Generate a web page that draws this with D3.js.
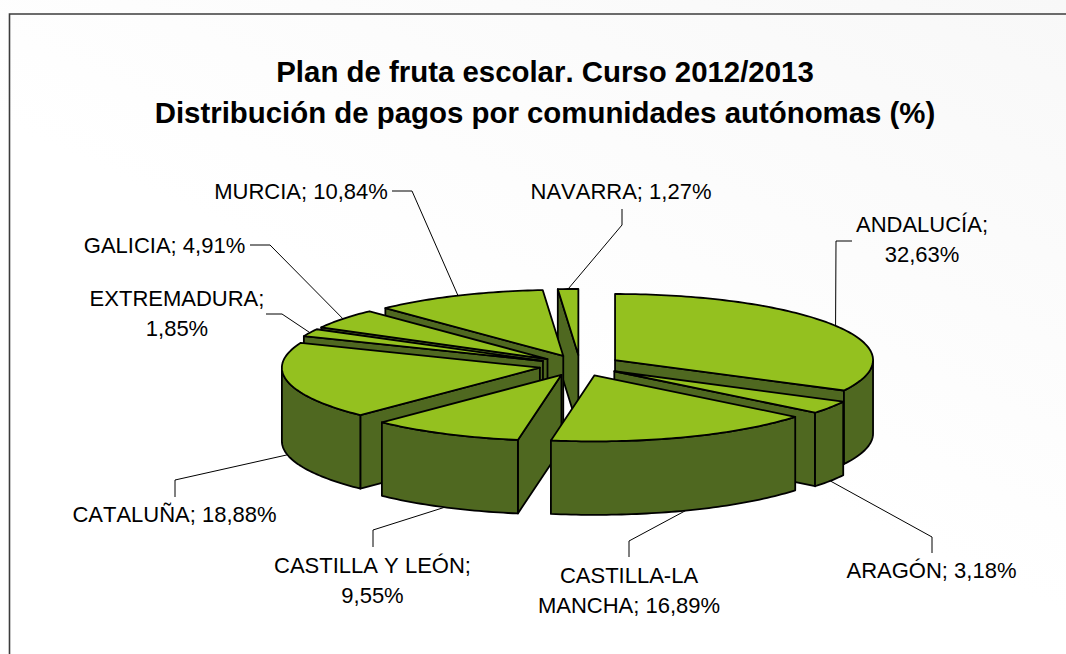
<!DOCTYPE html>
<html>
<head>
<meta charset="utf-8">
<style>
html,body{margin:0;padding:0;background:#fff;overflow:hidden}
svg{display:block}
text{font-family:"Liberation Sans",Arial,sans-serif;fill:#000;font-kerning:none}
</style>
<script src="https://cdn.jsdelivr.net/npm/d3@7/dist/d3.min.js"></script>
</head>
<body>
<svg id="chart" width="1066" height="654"></svg>
<script>
// ---- data ----
const categories = ["ANDALUCÍA","ARAGÓN","CASTILLA-LA MANCHA","CASTILLA Y LEÓN","CATALUÑA","EXTREMADURA","GALICIA","MURCIA","NAVARRA"];
const shares = [32.63,3.18,16.89,9.55,18.88,1.85,4.91,10.84,1.27];
const titleLines = ["Plan de fruta escolar. Curso 2012/2013","Distribución de pagos por comunidades autónomas (%)"];

// ---- layout ----
const W = 1066, H = 654;
const cx = 580, cy = 365.5, R = 258, tilt = 0.256, depth = 73.5, explode = 41;
const topColor = "#94c11f", sideColor = "#4f6820";
// label lines, anchor of each line and the elbow of its leader, by category index
const labelLayout = [
  {lines:["ANDALUCÍA;","32,63%"], x:922, y:232, elbow:[[852,241],[836,241]]},
  {lines:["ARAGÓN; 3,18%"], x:931.5, y:578, elbow:[[932,553],[932,537]]},
  {lines:["CASTILLA-LA","MANCHA; 16,89%"], x:629, y:583, elbow:[[629,557],[629,541]]},
  {lines:["CASTILLA Y LEÓN;","9,55%"], x:372.5, y:573, elbow:[[373,547],[373,530]]},
  {lines:["CATALUÑA; 18,88%"], x:174.5, y:522, elbow:[[175,497],[175,480]]},
  {lines:["EXTREMADURA;","1,85%"], x:177, y:306, elbow:[[266,314],[282,314]]},
  {lines:["GALICIA; 4,91%"], x:164.5, y:253, elbow:[[250,245],[270,245]]},
  {lines:["MURCIA; 10,84%"], x:301, y:199, elbow:[[392,191],[412,191]]},
  {lines:["NAVARRA; 1,27%"], x:621, y:199, elbow:[[622,209],[622,225]]}
];
const paintOrder = [8,7,6,5,0,4,3,1,2];

const svg = d3.select("#chart");
const defs = svg.append("defs");
const bg = defs.append("linearGradient").attr("id","bg").attr("x1","1").attr("y1","0").attr("x2","0.55").attr("y2","0.6");
bg.append("stop").attr("offset","0").attr("stop-color","#f8f8f8");
bg.append("stop").attr("offset","1").attr("stop-color","#ffffff");
svg.append("rect").attr("width",W).attr("height",H).attr("fill","url(#bg)");
svg.append("path").attr("d",`M9.5,${H}V14H${W}`).attr("fill","none").attr("stroke","#3c3c3c").attr("stroke-width",1.6);

titleLines.forEach((t,i)=>svg.append("text").attr("x",545).attr("y",82+i*41)
  .attr("text-anchor","middle").attr("font-size",29.4).attr("font-weight","bold").text(t));

const pie = d3.pie().sort(null).value(d=>d);
const arcs = pie(shares);
const px = d3.scaleLinear().domain([-1,1]).range([cx-R,cx+R]);
const py = d3.scaleLinear().domain([-1,1]).range([cy+R*tilt,cy-R*tilt]);
const line = d3.line().x(d=>d[0]).y(d=>d[1]);

arcs.forEach(a=>{
  const mid=(a.startAngle+a.endAngle)/2;
  a.dx = px(Math.sin(mid)*explode/R)-cx;
  a.dy = py(Math.cos(mid)*explode/R)-cy;
  a.at = (t,z=0)=>[px(Math.sin(t))+a.dx, py(Math.cos(t))+a.dy+z];
  a.apex = (z=0)=>[cx+a.dx, cy+a.dy+z];
});
const sweep=(t0,t1)=>{
  const n=Math.max(2,Math.ceil(Math.abs(t1-t0)/0.02));
  return d3.range(n+1).map(i=>t0+(t1-t0)*i/n);
};

// leaders below the slices
const leaders = svg.append("g");
labelLayout.forEach((l,i)=>{
  const a=arcs[i], mid=(a.startAngle+a.endAngle)/2;
  const end=a.at(mid, Math.cos(mid)<0?depth:0);
  leaders.append("path").attr("d",line([...l.elbow,end])).attr("fill","none").attr("stroke","#000").attr("stroke-width",1);
});

// slices, back to front
const pieG = svg.append("g").attr("stroke","#000").attr("stroke-width",1.8).attr("stroke-linejoin","round");
paintOrder.forEach(i=>{
  const a=arcs[i], s=a.startAngle, e=a.endAngle, g=pieG.append("g");
  const wall=t=>g.append("path").attr("fill",sideColor)
    .attr("d",line([a.apex(),a.at(t),a.at(t,depth),a.apex(depth)])+"Z");
  if(Math.sin(s)<0) wall(s);
  if(Math.sin(e)>0) wall(e);
  const o0=Math.max(s,Math.PI/2), o1=Math.min(e,Math.PI*1.5);
  if(o1>o0){
    const ts=sweep(o0,o1);
    g.append("path").attr("fill",sideColor)
      .attr("d",line([...ts.map(t=>a.at(t)),...ts.slice().reverse().map(t=>a.at(t,depth))])+"Z");
  }
  g.append("path").attr("fill",topColor)
    .attr("d",line([a.apex(),...sweep(s,e).map(t=>a.at(t))])+"Z");
});

// labels
labelLayout.forEach(l=>{
  l.lines.forEach((t,j)=>svg.append("text").attr("x",l.x).attr("y",l.y+j*30.3)
    .attr("text-anchor","middle").attr("font-size",22).text(t));
});
</script>
</body>
</html>
